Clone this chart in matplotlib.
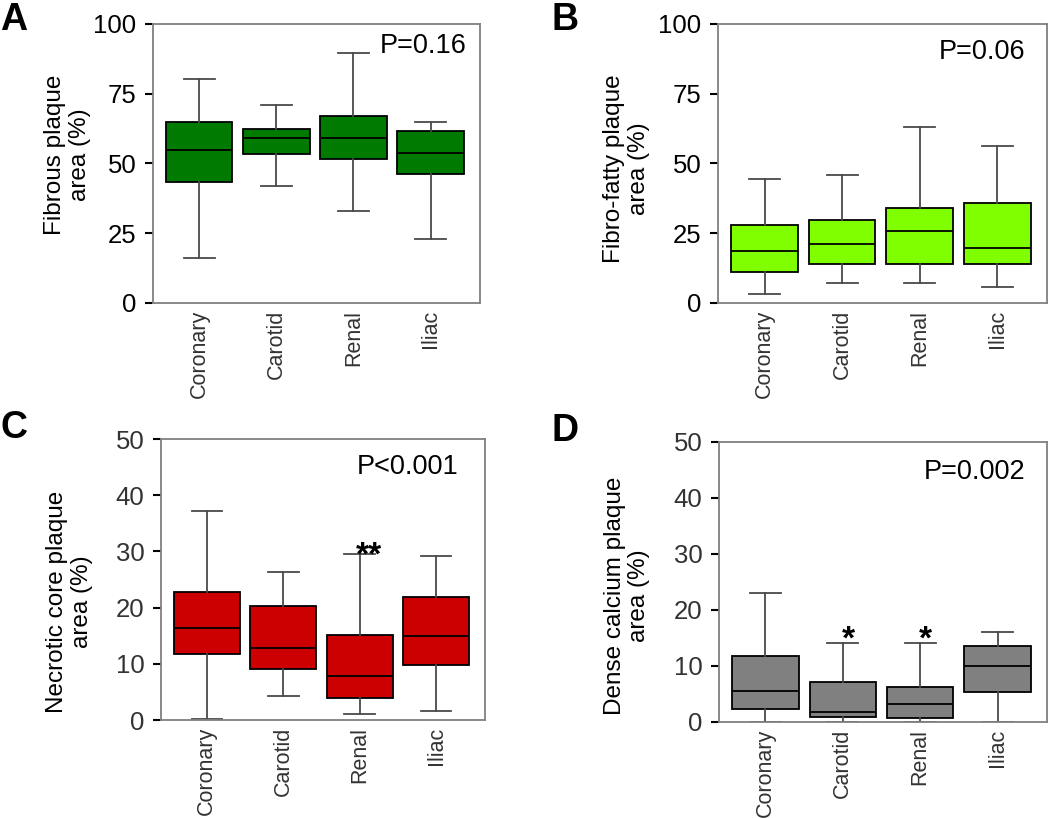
import matplotlib
matplotlib.use("Agg")
import matplotlib.pyplot as plt

plt.rcParams['font.family'] = ['Liberation Sans', 'DejaVu Sans']

sites = ["Coronary", "Carotid", "Renal", "Iliac"]

# whisker low, Q1, median, Q3, whisker high
fibrous = [[16.3, 43.2, 54.8, 65.0, 80.3],
           [41.9, 53.5, 59.1, 62.4, 71.1],
           [33.1, 51.6, 59.1, 67.0, 89.6],
           [22.9, 46.1, 53.9, 61.8, 64.9]]
fibro_fatty = [[3.1, 11.1, 18.6, 27.8, 44.5],
               [7.3, 14.0, 21.1, 29.7, 45.9],
               [7.3, 14.0, 25.8, 33.9, 62.9],
               [5.7, 14.0, 19.7, 35.9, 56.1]]
necrotic = [[0.1, 11.8, 16.4, 22.7, 37.2],
            [4.3, 9.0, 12.9, 20.3, 26.3],
            [1.0, 3.9, 7.8, 15.2, 29.5],
            [1.6, 9.7, 15.0, 21.9, 29.2]]
calcium = [[0.0, 2.3, 5.5, 11.8, 23.0],
           [0.0, 0.9, 1.8, 7.1, 14.1],
           [0.0, 0.7, 3.2, 6.25, 14.1],
           [0.0, 5.3, 10.0, 13.6, 16.0]]

p_values = ["P=0.16", "P=0.06", "P<0.001", "P=0.002"]
ylabels = ["Fibrous plaque\narea (%)", "Fibro-fatty plaque\narea (%)",
           "Necrotic core plaque\narea (%)", "Dense calcium plaque\narea (%)"]
# significance marks: site index -> (text, y of glyph centre)
stars = [{}, {}, {2: ("**", 30.1)}, {1: ("*", 15.5), 2: ("*", 15.5)}]

panels = [
    dict(data=fibrous, color="#007a00", ylim=100, ticks=[0, 25, 50, 75, 100],
         rect=[0.1457, 0.6296, 0.3114, 0.3411], letter="A", lxy=(0.0, 0.998),
         tickcol="black", lab=(-0.19, 0.53), pxy=(0.96, 0.92), sx=0.12),
    dict(data=fibro_fatty, color="#80ff00", ylim=100, ticks=[0, 25, 50, 75, 100],
         rect=[0.6838, 0.6296, 0.3133, 0.3411], letter="B", lxy=(0.525, 0.998),
         tickcol="black", lab=(-0.207, 0.48), pxy=(0.933, 0.90), sx=0.12),
    dict(data=necrotic, color="#cc0000", ylim=50, ticks=[0, 10, 20, 30, 40, 50],
         rect=[0.1533, 0.1198, 0.3086, 0.3435], letter="C", lxy=(0.0, 0.499),
         tickcol="#333333", lab=(-0.21, 0.42), pxy=(0.917, 0.90), sx=0.12),
    dict(data=calcium, color="#808080", ylim=50, ticks=[0, 10, 20, 30, 40, 50],
         rect=[0.6848, 0.1174, 0.3124, 0.3423], letter="D", lxy=(0.525, 0.495),
         tickcol="#333333", lab=(-0.21, 0.45), pxy=(0.933, 0.893), sx=0.07),
]

fig = plt.figure(figsize=(10.5, 8.18), dpi=100)

for i, p in enumerate(panels):
    ax = fig.add_axes(p["rect"])
    stats = []
    for name, (lo, q1, med, q3, hi) in zip(sites, p["data"]):
        stats.append(dict(label=name, whislo=lo, q1=q1, med=med, q3=q3, whishi=hi, fliers=[]))
    ax.bxp(stats, positions=[1, 2, 3, 4], widths=0.86, patch_artist=True,
           showfliers=False, capwidths=0.4,
           boxprops=dict(facecolor=p["color"], edgecolor="black", linewidth=1.3),
           medianprops=dict(color="black", linewidth=1.3),
           whiskerprops=dict(color="#4a4a4a", linewidth=1.3),
           capprops=dict(color="#4a4a4a", linewidth=1.3))
    ax.set_xlim(0.4, 4.64)
    ax.set_ylim(0, p["ylim"])
    ax.set_yticks(p["ticks"])
    ax.tick_params(axis="y", labelsize=18.5, length=6, width=1.5, color="black",
                   labelcolor=p["tickcol"], pad=6)
    ax.tick_params(axis="x", length=0, labelsize=15.5, labelrotation=90,
                   labelcolor="#333333", pad=5)
    for s in ax.spines.values():
        s.set_color("#808080")
        s.set_linewidth(1.3)
    ax.set_ylabel(ylabels[i], fontsize=17.5, linespacing=1.15)
    ax.yaxis.set_label_coords(*p["lab"])
    ax.text(p["pxy"][0], p["pxy"][1], p_values[i], transform=ax.transAxes,
            ha="right", va="center", fontsize=19.5)
    for k, (s, yc) in stars[i].items():
        ax.annotate(s, xy=(k + 1 + p["sx"], yc), xytext=(0, -10), textcoords="offset points",
                    ha="center", va="baseline", fontsize=24, fontweight="bold")
    fig.text(p["lxy"][0], p["lxy"][1], p["letter"], fontsize=27, fontweight="bold",
             ha="left", va="top")

fig.savefig("out.png", dpi=100)
